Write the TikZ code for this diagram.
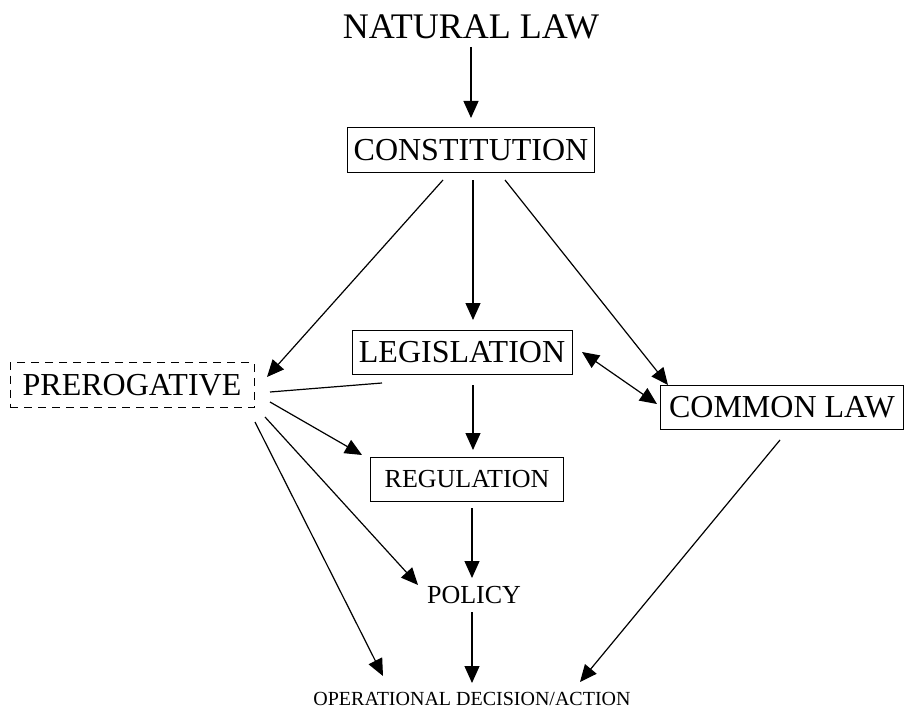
\documentclass[tikz,border=0pt]{standalone}
\usepackage{fontspec}
\setmainfont{Liberation Serif}
\usetikzlibrary{arrows.meta,calc}
\tikzset{
  box/.style={draw, line width=1pt, inner sep=0pt, anchor=center},
  dbox/.style={box, dash pattern=on 8pt off 6pt},
  conn/.style={line width=1.2pt},
  arr/.style={conn, -{Triangle[length=17pt,width=15pt]}},
  darr/.style={conn, {Triangle[length=17pt,width=15pt]}-{Triangle[length=17pt,width=15pt]}},
}
\newcommand{\fs}[1]{\fontsize{#1}{#1}\selectfont}
\begin{document}
\begin{tikzpicture}[x=1pt,y=-1pt]
\useasboundingbox (0,0) rectangle (906,709);
\node (nat) at (471,27) {\fs{36}NATURAL LAW};
\node[box, minimum width=247pt, minimum height=45pt] (con) at (471,150) {\fs{32}CONSTITUTION};
\node[box, minimum width=220pt, minimum height=44pt] (leg) at (462,352) {\fs{32}LEGISLATION};
\node[box, minimum width=243pt, minimum height=44pt] (com) at (782,407) {\fs{32}COMMON LAW};
\node[dbox, minimum width=244pt, minimum height=45pt] (pre) at (132,385) {\fs{32}PREROGATIVE};
\node[box, minimum width=193pt, minimum height=44pt] (reg) at (467,479) {\fs{26}REGULATION};
\node (pol) at (474,595) {\fs{26}POLICY};
\node (op) at (472,699) {\fs{20}OPERATIONAL DECISION/ACTION};

\draw[arr] ($(nat)+(0,20)$) -- ($(con)+(0,-32)$);
\draw[arr] ($(con)+(-28,30)$) -- ($(pre)+(135,-8)$);
\draw[arr] ($(con)+(2,30)$) -- ($(leg)+(11,-32)$);
\draw[arr] ($(con)+(34,30)$) -- ($(com)+(-114,-22)$);
\draw[darr] ($(leg)+(120,0)$) -- ($(com)+(-125,-3)$);
\draw[conn] ($(pre)+(138,7)$) -- ($(leg)+(-80,31)$);
\draw[arr] ($(pre)+(138,17)$) -- ($(reg)+(-105,-24)$);
\draw[arr] ($(pre)+(133,32)$) -- ($(pol)+(-56,-10)$);
\draw[arr] ($(pre)+(123,37)$) -- ($(op)+(-89,-23)$);
\draw[arr] ($(leg)+(11,33)$) -- ($(reg)+(6,-29)$);
\draw[arr] ($(reg)+(5,29)$) -- ($(pol)+(-2,-17)$);
\draw[arr] ($(pol)+(-2,17)$) -- ($(op)+(0,-16)$);
\draw[arr] ($(com)+(-2,33)$) -- ($(op)+(108,-17)$);
\end{tikzpicture}
\end{document}
